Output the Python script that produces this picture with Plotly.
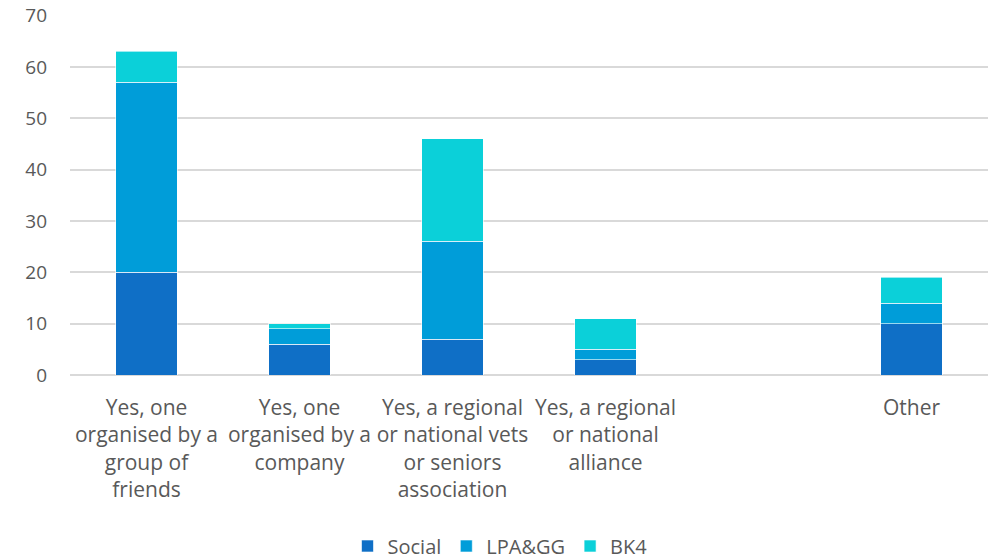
import plotly.graph_objects as go

categories = [
    "Yes, one<br>organised by a<br>group of<br>friends",
    "Yes, one<br>organised by a<br>company",
    "Yes, a regional<br>or national vets<br>or seniors<br>association",
    "Yes, a regional<br>or national<br>alliance",
    " ",
    "Other",
]
social = [20, 6, 7, 3, 0, 10]
lpa_gg = [37, 3, 19, 2, 0, 4]
bk4 = [6, 1, 20, 6, 0, 5]

series = [("Social", social, "#0F6FC6"), ("LPA&GG", lpa_gg, "#009DD9"), ("BK4", bk4, "#0BD0D9")]

fig = go.Figure()
for name, vals, color in series:
    fig.add_trace(go.Bar(
        x=categories, y=vals, name=name,
        marker=dict(color=color, line=dict(color="rgba(255,255,255,0.6)", width=1)),
    ))

W, H = 1000, 559
font = "Open Sans, Liberation Sans, sans-serif"
fig.update_layout(
    barmode="stack",
    bargap=0.6,
    width=W, height=H,
    margin=dict(l=70, r=12, t=15, b=184),
    paper_bgcolor="white", plot_bgcolor="white",
    font=dict(family=font, size=18, color="#595959"),
    xaxis=dict(tickfont=dict(size=21, color="#595959"), showline=False, ticks="",
               tickangle=0, automargin=False, ticklabelstandoff=18),
    yaxis=dict(range=[0, 70.1], tickvals=[0, 10, 20, 30, 40, 50, 60, 70],
               gridcolor="#D9D9D9", gridwidth=1.5,
               zeroline=True, zerolinecolor="#D9D9D9", zerolinewidth=1.5,
               tickfont=dict(size=19, color="#595959"), ticks="",
               automargin=False, ticklabelstandoff=22),
    legend=dict(orientation="h", x=0.5, xanchor="center", xref="container",
                y=1 - 546 / H, yanchor="middle", yref="container",
                font=dict(size=20, color="#595959"), traceorder="normal",
                itemwidth=30, tracegroupgap=0),
    showlegend=True,
)
fig.write_html("out.html", config={"displayModeBar": False},
               post_script="document.body.style.margin='0';")
